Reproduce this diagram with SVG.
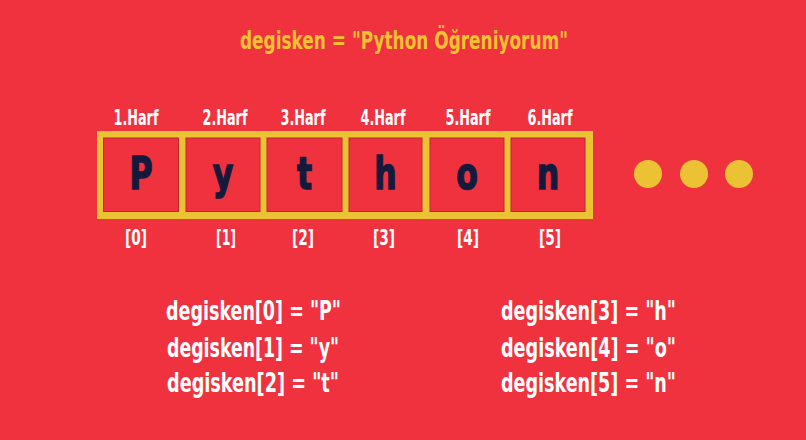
<svg xmlns="http://www.w3.org/2000/svg" width="806" height="440" viewBox="0 0 806 440">
  <style>
    .t { font-family: "DejaVu Sans Condensed", "DejaVu Sans", sans-serif; font-weight: bold; text-anchor: middle; }
    .title { fill: #F2C232; font-size: 25px; }
    .lbl { fill: #FFFFFF; font-size: 21px; }
    .idx { fill: #FFFFFF; font-size: 22px; }
    .code { fill: #FFFFFF; font-size: 26px; text-anchor: start; }
    .ch { fill: #151A3C; stroke: #151A3C; stroke-width: 1.6; font-size: 50px; }
    .cell { fill: #F0323F; stroke: #C0262F; stroke-width: 1; }
    .dot { fill: #EBC234; }
  </style>

  <!-- background -->
  <rect x="0" y="0" width="806" height="440" fill="#F0323F"/>

  <!-- variable assignment heading -->
  <g id="title">
    <text class="t title" x="404" y="49" textLength="328" lengthAdjust="spacingAndGlyphs">degisken = "Python Öğreniyorum"</text>
  </g>

  <!-- letter strip -->
  <g id="strip">
    <rect x="97" y="131" width="496" height="88" fill="#EBC234"/>
    <g id="cell0"><rect class="cell" x="103.5" y="138" width="75" height="73.5"/>
      <text class="t ch" transform="translate(141,189) scale(0.7,0.9)">P</text></g>
    <g id="cell1"><rect class="cell" x="186" y="138" width="74" height="73.5"/>
      <text class="t ch" transform="translate(223,189) scale(0.7,0.9)">y</text></g>
    <g id="cell2"><rect class="cell" x="267" y="138" width="75" height="73.5"/>
      <text class="t ch" transform="translate(304.5,189) scale(0.7,0.9)">t</text></g>
    <g id="cell3"><rect class="cell" x="349" y="138" width="73" height="73.5"/>
      <text class="t ch" transform="translate(385.5,189) scale(0.7,0.9)">h</text></g>
    <g id="cell4"><rect class="cell" x="430" y="138" width="74" height="73.5"/>
      <text class="t ch" transform="translate(467,189) scale(0.7,0.9)">o</text></g>
    <g id="cell5"><rect class="cell" x="511" y="138" width="74" height="73.5"/>
      <text class="t ch" transform="translate(548,189) scale(0.7,0.9)">n</text></g>
  </g>

  <!-- letter numbers above the strip -->
  <g id="harf-labels">
    <text class="t lbl" x="136" y="125" textLength="45" lengthAdjust="spacingAndGlyphs">1.Harf</text>
    <text class="t lbl" x="225" y="125" textLength="45" lengthAdjust="spacingAndGlyphs">2.Harf</text>
    <text class="t lbl" x="303" y="125" textLength="45" lengthAdjust="spacingAndGlyphs">3.Harf</text>
    <text class="t lbl" x="383" y="125" textLength="45" lengthAdjust="spacingAndGlyphs">4.Harf</text>
    <text class="t lbl" x="468" y="125" textLength="45" lengthAdjust="spacingAndGlyphs">5.Harf</text>
    <text class="t lbl" x="550" y="125" textLength="45" lengthAdjust="spacingAndGlyphs">6.Harf</text>
  </g>

  <!-- indices below the strip -->
  <g id="index-labels">
    <text class="t idx" x="136" y="245" textLength="22" lengthAdjust="spacingAndGlyphs">[0]</text>
    <text class="t idx" x="226" y="245" textLength="20" lengthAdjust="spacingAndGlyphs">[1]</text>
    <text class="t idx" x="303" y="245" textLength="22" lengthAdjust="spacingAndGlyphs">[2]</text>
    <text class="t idx" x="384" y="245" textLength="22" lengthAdjust="spacingAndGlyphs">[3]</text>
    <text class="t idx" x="468" y="245" textLength="22" lengthAdjust="spacingAndGlyphs">[4]</text>
    <text class="t idx" x="550" y="245" textLength="22" lengthAdjust="spacingAndGlyphs">[5]</text>
  </g>

  <!-- continuation dots -->
  <g id="ellipsis">
    <circle class="dot" cx="648" cy="174" r="14"/>
    <circle class="dot" cx="694" cy="174" r="14"/>
    <circle class="dot" cx="739" cy="174" r="14"/>
  </g>

  <!-- indexing examples -->
  <g id="examples-left">
    <text class="t code" x="166" y="320" textLength="175" lengthAdjust="spacingAndGlyphs">degisken[0] = "P"</text>
    <text class="t code" x="167" y="357" textLength="172" lengthAdjust="spacingAndGlyphs">degisken[1] = "y"</text>
    <text class="t code" x="167" y="392" textLength="172" lengthAdjust="spacingAndGlyphs">degisken[2] = "t"</text>
  </g>
  <g id="examples-right">
    <text class="t code" x="501" y="320" textLength="175" lengthAdjust="spacingAndGlyphs">degisken[3] = "h"</text>
    <text class="t code" x="501" y="357" textLength="175" lengthAdjust="spacingAndGlyphs">degisken[4] = "o"</text>
    <text class="t code" x="501" y="392" textLength="175" lengthAdjust="spacingAndGlyphs">degisken[5] = "n"</text>
  </g>
</svg>
